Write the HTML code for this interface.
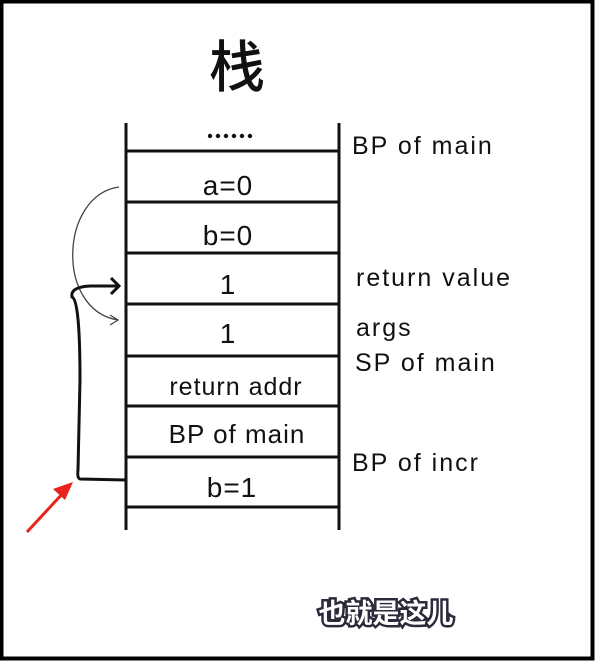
<!DOCTYPE html>
<html><head><meta charset="utf-8"><style>
body{margin:0;width:596px;height:662px;overflow:hidden;background:#fff}
svg{display:block}
.c{font-family:"Liberation Sans",sans-serif;font-size:28px;fill:#111;text-anchor:middle;letter-spacing:1px}
.r{font-family:"Liberation Sans",sans-serif;font-size:25px;fill:#111;letter-spacing:2px}
</style></head><body>
<svg width="596" height="662">
<rect x="1.5" y="1.5" width="591" height="657" fill="#fff" stroke="#000" stroke-width="4"/>
<text x="237" y="87" font-family="Noto Sans CJK SC, sans-serif" font-size="56" font-weight="500" text-anchor="middle" fill="#111">栈</text>
<g stroke="#111" stroke-width="3">
<line x1="126" y1="123" x2="126" y2="530"/>
<line x1="339" y1="123" x2="339" y2="530"/>
<line x1="126" y1="151" x2="339" y2="151"/>
<line x1="126" y1="202" x2="339" y2="202"/>
<line x1="126" y1="253" x2="339" y2="253"/>
<line x1="126" y1="304" x2="339" y2="304"/>
<line x1="126" y1="356" x2="339" y2="356"/>
<line x1="126" y1="406" x2="339" y2="406"/>
<line x1="126" y1="457" x2="339" y2="457"/>
<line x1="126" y1="507" x2="339" y2="507"/>
</g>
<g fill="#111">
<circle cx="210" cy="136" r="2.2"/><circle cx="218" cy="136" r="2.2"/><circle cx="226" cy="136" r="2.2"/><circle cx="234" cy="136" r="2.2"/><circle cx="242" cy="136" r="2.2"/><circle cx="250" cy="136" r="2.2"/>
</g>
<g>
<text class="c" x="228" y="195">a=0</text>
<text class="c" x="228" y="245">b=0</text>
<text class="c" x="228" y="294">1</text>
<text class="c" x="228" y="343">1</text>
<text class="c" x="236" y="395" style="font-size:25px">return addr</text>
<text class="c" x="237" y="443" style="font-size:26px">BP of main</text>
<text class="c" x="232" y="497">b=1</text>
</g>
<g>
<text class="r" x="352" y="154">BP of main</text>
<text class="r" x="356" y="286">return value</text>
<text class="r" x="356" y="336">args</text>
<text class="r" x="355" y="371">SP of main</text>
<text class="r" x="352" y="471">BP of incr</text>
</g>
<path d="M119,187 C60,195 55,310 118,320 M110,315 L118,320 L110,325" fill="none" stroke="#444" stroke-width="1.3"/>
<path d="M126,480 L80,479 Q77,478 78,470 L80,380 Q80,300 72,297 Q70,287 90,286 L118,286 M111,278 L119,286 L111,294" fill="none" stroke="#111" stroke-width="3"/>
<path d="M27,532 L64,492" stroke="#e8231e" stroke-width="3"/>
<polygon points="73,482 53,489 65,500" fill="#e8231e"/>
<text x="386" y="623" font-family="Noto Sans CJK SC, sans-serif" font-size="27" font-weight="bold" text-anchor="middle" fill="#fff" stroke="#2a2a3a" stroke-width="5" paint-order="stroke">也就是这儿</text>
</svg>
</body></html>
